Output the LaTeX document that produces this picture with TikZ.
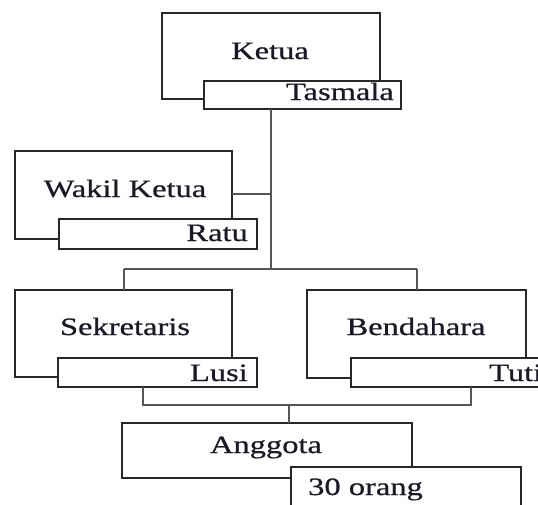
\documentclass[tikz,border=0pt]{standalone}
\usepackage{fontspec}
\usepackage{graphicx}
\setmainfont{Liberation Serif}[FakeBold=0.6]
\definecolor{txt}{RGB}{25,25,40}
\definecolor{boxline}{RGB}{40,40,40}
\definecolor{conn}{RGB}{85,85,85}
\tikzset{
  mainbox/.style={draw=boxline, fill=white, line width=1.5pt, inner sep=0pt, outer sep=0pt},
  namebox/.style={draw=boxline, fill=white, line width=1.5pt, inner sep=0pt, outer sep=0pt},
  lbl/.style={text=txt, inner sep=0pt, font=\fontsize{25}{28}\selectfont},
  connector/.style={draw=conn, line width=1.3pt}
}
\newcommand{\wide}[1]{\scalebox{1.3}[1]{#1}}
\begin{document}
\begin{tikzpicture}[x=1pt,y=-1pt]
\useasboundingbox (0,0) rectangle (538,504);
\clip (0,0) rectangle (538,504);
\fill[white] (0,0) rectangle (538,504);

% Ketua
\node[mainbox, minimum width=218pt, minimum height=86pt] (ketua) at (271,56) {};
\node[namebox, minimum width=197pt, minimum height=28pt] (tasmala) at (302.5,95) {};
\node[lbl, anchor=base] (ketuaT) at (270,59) {\wide{Ketua}};
\node[lbl, anchor=base east] (tasmalaT) at (394,100) {\wide{Tasmala}};

% Wakil Ketua
\node[mainbox, minimum width=217pt, minimum height=88pt] (wakil) at (123.5,195) {};
\node[namebox, minimum width=198pt, minimum height=30pt] (ratu) at (158,234) {};
\node[lbl, anchor=base] (wakilT) at (125,197) {\wide{Wakil Ketua}};
\node[lbl, anchor=base east] (ratuT) at (248,241) {\wide{Ratu}};

% Sekretaris
\node[mainbox, minimum width=217pt, minimum height=87pt] (sek) at (123.5,333.5) {};
\node[namebox, minimum width=199pt, minimum height=29pt] (lusi) at (157.5,372.5) {};
\node[lbl, anchor=base] (sekT) at (125,335) {\wide{Sekretaris}};
\node[lbl, anchor=base east] (lusiT) at (248,381) {\wide{Lusi}};

% Bendahara
\node[mainbox, minimum width=219pt, minimum height=88pt] (bend) at (416.5,334) {};
\node[namebox, minimum width=219pt, minimum height=29pt] (tuti) at (460.5,372.5) {};
\node[lbl, anchor=base] (bendT) at (416,335) {\wide{Bendahara}};
\node[lbl, anchor=base west] (tutiT) at (489,381) {\wide{Tuti}};

% Anggota
\node[mainbox, minimum width=290pt, minimum height=55pt] (angg) at (267,450.5) {};
\node[namebox, minimum width=230pt, minimum height=50pt] (orang) at (406,492) {};
\node[lbl, anchor=base] (anggT) at (266,453) {\wide{Anggota}};
\node[lbl, anchor=base west] (orangT) at (308,495) {\wide{30 orang}};

% connectors
\coordinate (trunkTop) at (271,109);
\coordinate (hub) at (271,269);
\coordinate (wakilJ) at (271,194);
\coordinate (hL) at (124,269);
\coordinate (hR) at (417,269);
\draw[connector] (trunkTop) -- (hub);
\draw[connector] (wakil.east |- wakilJ) -- (wakilJ);
\draw[connector] (hL) -- (hR);
\draw[connector] (hL) -- (hL |- sek.north);
\draw[connector] (hR) -- (hR |- bend.north);

\coordinate (bL) at (143,405);
\coordinate (bR) at (471,405);
\coordinate (bM) at (289,405);
\draw[connector] (bL |- lusi.south) -- (bL) -- (bR) -- (bR |- tuti.south);
\draw[connector] (bM) -- (bM |- angg.north);
\end{tikzpicture}
\end{document}
